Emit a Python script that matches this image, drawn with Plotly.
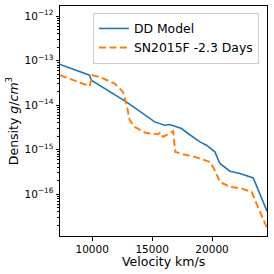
import plotly.graph_objects as go

# DD Model (blue)
dd_v = [7316, 9783, 9925, 12851, 15217, 16054, 16472, 16890, 17450, 18002,
        18980, 19540, 20234, 20652, 21488, 22324, 23436, 24582]
dd_log = [-13.085, -13.326, -13.438, -13.926, -14.375, -14.449, -14.434, -14.472,
          -14.524, -14.636, -14.825, -14.899, -15.049, -15.310, -15.483, -15.535,
          -15.634, -16.38]

# SN2015F -2.3 Days (orange dashed)
sn_v = [7330, 9783, 10033, 10619, 11873, 12567, 12851, 13127, 13545, 14381, 14799,
        15493, 15694, 15912, 16748, 16931, 17584, 18562, 19816, 20234, 20652,
        21488, 22467, 23303, 23579, 24582]
sn_log = [-13.326, -13.573, -13.326, -13.364, -13.512, -13.701, -13.962, -14.337,
          -14.488, -14.613, -14.636, -14.652, -14.613, -14.712, -14.584, -15.049,
          -15.101, -15.162, -15.274, -15.461, -15.724, -15.836, -15.872, -15.948,
          -16.135, -16.76]

dd_rho = [10 ** p for p in dd_log]
sn_rho = [10 ** p for p in sn_log]

x_ticks = [10000, 15000, 20000]
y_exps = [-16, -15, -14, -13, -12]

font = "DejaVu Sans"

fig = go.Figure()
fig.add_trace(go.Scatter(x=dd_v, y=dd_rho, mode="lines", name="DD Model",
                         line=dict(color="#1f77b4", width=1.6)))
fig.add_trace(go.Scatter(x=sn_v, y=sn_rho, mode="lines", name="SN2015F -2.3 Days",
                         line=dict(color="#ff7f0e", width=2, dash="7px,3.5px")))

minor_vals = [m * 10.0 ** e for e in range(-17, -11) for m in range(2, 10)]

fig.update_layout(
    width=274, height=274,
    margin=dict(l=60, r=7, t=6, b=38, autoexpand=False),
    paper_bgcolor="white", plot_bgcolor="white",
    font=dict(family=font, size=10.5, color="black"),
    showlegend=True,
    legend=dict(x=0.159, y=0.97, xanchor="left", yanchor="top",
                bgcolor="rgba(255,255,255,0.8)", bordercolor="#cccccc", borderwidth=1,
                font=dict(size=12.4, family=font), tracegroupgap=0),
    xaxis=dict(range=[7316, 24582], tickvals=x_ticks,
               ticktext=[str(v) for v in x_ticks], automargin=False,
               showline=True, mirror=True, linecolor="black", linewidth=1,
               ticks="outside", ticklen=3.5, tickcolor="black", showgrid=False,
               zeroline=False),
    yaxis=dict(type="log", range=[-16.94, -11.77], automargin=False,
               tickvals=[10.0 ** e for e in y_exps],
               ticktext=["10<sup>\u2212%d</sup>" % (-e) for e in y_exps],
               showline=True, mirror=True, linecolor="black", linewidth=1,
               ticks="outside", ticklen=3.5, tickcolor="black", showgrid=False,
               zeroline=False,
               minor=dict(tickvals=minor_vals, ticks="outside", ticklen=2,
                          tickcolor="black", showgrid=False),
               title=dict(text="Density <i>g</i>/<i>cm</i><sup>3</sup>",
                          font=dict(size=12.5), standoff=3)),
    annotations=[dict(text="Velocity km/s", xref="paper", yref="paper",
                      x=0.5, y=-0.113, xanchor="center", yanchor="middle",
                      showarrow=False, font=dict(size=12.5))],
)

fig.write_html("out.html", config={"displayModeBar": False},
               post_script="document.body.style.margin='0';document.body.style.overflow='hidden';")
